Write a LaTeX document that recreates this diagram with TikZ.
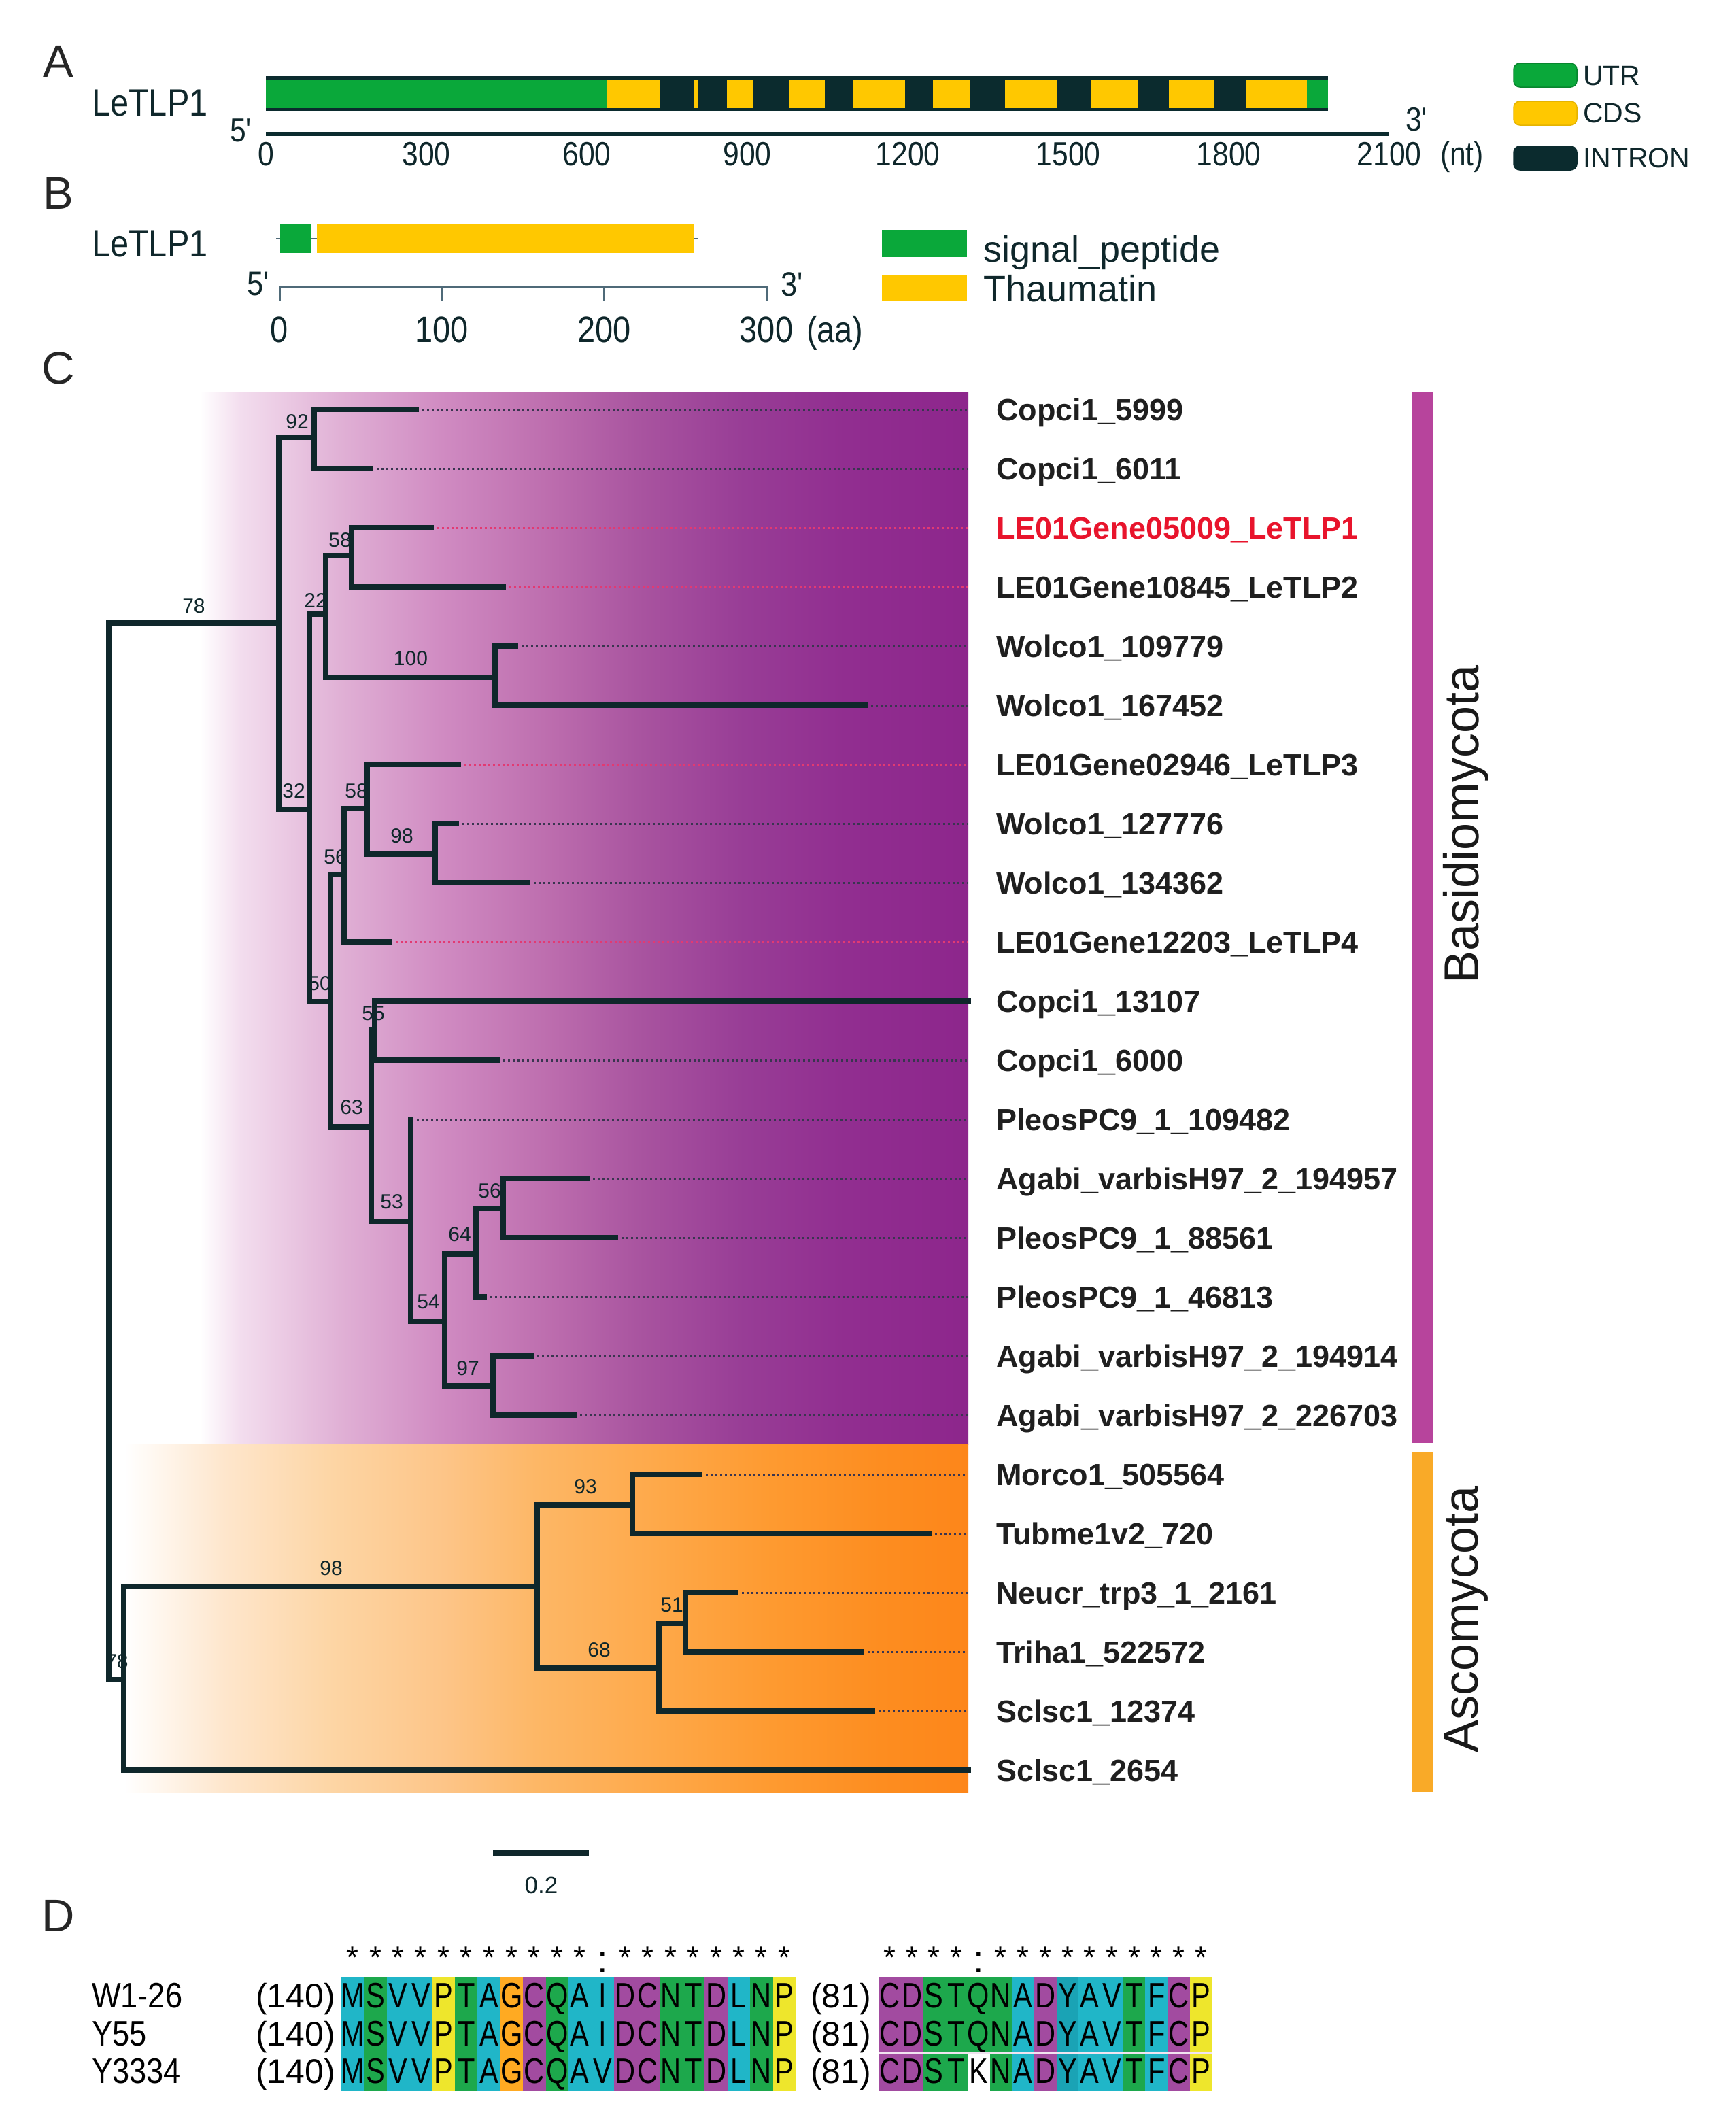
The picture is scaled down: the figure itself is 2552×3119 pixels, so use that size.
\documentclass[tikz,border=0pt]{standalone}
\usepackage{fontspec}
\setmainfont{Liberation Sans}
\usepackage{graphicx}
\definecolor{treec}{HTML}{0F272B}
\definecolor{utrg}{HTML}{0AA83A}
\definecolor{cdsy}{HTML}{FFC800}
\definecolor{intr}{HTML}{0B2B2E}
\definecolor{basb}{HTML}{B7449C}
\definecolor{ascb}{HTML}{F9AA28}
\definecolor{redl}{HTML}{E8142C}
\definecolor{cdot}{HTML}{3A3550}
\definecolor{cdotr}{HTML}{E23A72}
\definecolor{axb}{HTML}{4F6A78}
\definecolor{cy}{HTML}{20B6C8}
\definecolor{cyd}{HTML}{1AA3B5}
\definecolor{gr}{HTML}{1DA84C}
\definecolor{ye}{HTML}{EEE62C}
\definecolor{orr}{HTML}{FFAA22}
\definecolor{pu}{HTML}{A24BA0}
\definecolor{pA}{HTML}{F3DDEE}
\definecolor{pB}{HTML}{E0B0D5}
\definecolor{pC}{HTML}{D08BC2}
\definecolor{pD}{HTML}{BE6FAF}
\definecolor{pE}{HTML}{A8539F}
\definecolor{pF}{HTML}{983D96}
\definecolor{pG}{HTML}{912E90}
\definecolor{pH}{HTML}{8D268C}
\definecolor{oA}{HTML}{FEE6CC}
\definecolor{oB}{HTML}{FDD5A4}
\definecolor{oC}{HTML}{FDC588}
\definecolor{oD}{HTML}{FDB766}
\definecolor{oE}{HTML}{FEA848}
\definecolor{oF}{HTML}{FE9A30}
\definecolor{oG}{HTML}{FD8D20}
\definecolor{oH}{HTML}{FD861A}
\pgfdeclarehorizontalshading{purpgrad}{100bp}{color(0bp)=(white); color(25bp)=(white); color(27.65bp)=(pA); color(34.2bp)=(pB); color(40.75bp)=(pC); color(47.3bp)=(pD); color(53.85bp)=(pE); color(60.4bp)=(pF); color(66.95bp)=(pG); color(75bp)=(pH); color(100bp)=(pH)}
\pgfdeclarehorizontalshading{orgrad}{100bp}{color(0bp)=(white); color(25bp)=(white); color(30.96bp)=(oA); color(37.4bp)=(oB); color(43.9bp)=(oC); color(49.4bp)=(oD); color(56.9bp)=(oE); color(63.4bp)=(oF); color(69.8bp)=(oG); color(75bp)=(oH); color(100bp)=(oH)}
\newcommand{\fsz}[1]{\fontsize{#1}{#1}\selectfont}
\newcommand{\cnd}[1]{\scalebox{0.87}[1]{#1}}
\newcommand{\cnda}[1]{\scalebox{0.8}[1]{#1}}
\tikzset{
  tx/.style={inner sep=0pt, outer sep=0pt},
  br/.style={draw=treec, line width=8pt, line cap=rect, line join=miter},
  dotn/.style={draw=cdot, line width=3pt, dash pattern=on 2.5pt off 4.5pt},
  dotred/.style={draw=cdotr, line width=3pt, dash pattern=on 2.5pt off 4.5pt},
  leaf/.style={tx, anchor=base west, font=\fsz{45}\bfseries, text=black!88},
  bs/.style={tx, font=\fsz{30}, text=treec},
  pl/.style={tx, font=\fsz{67}, text=black!85},
  tkA/.style={tx, anchor=base, font=\fsz{49}, text=treec},
  tkB/.style={tx, anchor=base, font=\fsz{54}, text=treec},
  lgA/.style={tx, anchor=base west, font=\fsz{41}, text=treec},
  lgB/.style={tx, anchor=base west, font=\fsz{54}, text=treec},
  aa/.style={tx, anchor=base, font=\fsz{52}, text=black},
  nm/.style={tx, anchor=base west, font=\fsz{52}, text=black},
  st/.style={tx, anchor=base, font=\fsz{46}, text=black},
  clade/.style={tx, font=\fsz{72}, text=black!90, rotate=90}
}
\begin{document}
\begin{tikzpicture}[x=1pt,y=-1pt]
\useasboundingbox (0,0) rectangle (2552,3119);
% ---------------- Panel A ----------------
\node[pl] (labA) at (86,90) {A};
\node[tx, anchor=base west, font=\fsz{56}, text=treec] (geneA) at (135,170) {\cnd{LeTLP1}};
\fill[intr] (391,112) rectangle (1953,163);
\fill[utrg] (391,118) rectangle (892,159);
\foreach \a/\b in {892/970,1020/1027,1069/1108,1160/1213,1255/1331,1372/1426,1478/1554,1605/1673,1719/1785,1833/1922}
  \fill[cdsy] (\a,118) rectangle (\b,159);
\fill[utrg] (1922,118) rectangle (1953,159);
\draw[intr, line width=6pt] (391,197) -- (2043,197);
\foreach \v [count=\k from 0] in {0,300,600,900,1200,1500,1800,2100}
  \node[tkA] (tA\k) at ({391+0.78667*\v},243) {\cnd{\v}};
\node[tx, anchor=base west, font=\fsz{49}, text=treec] (ntA) at (2118,243) {\cnd{(nt)}};
\node[tx, font=\fsz{49}, text=treec] (fiveA) at (354,192) {\cnd{5\textquotesingle}};
\node[tx, font=\fsz{49}, text=treec] (threeA) at (2083,176) {\cnd{3\textquotesingle}};
\draw[utrg!80!black, fill=utrg, rounded corners=9pt, line width=1.5pt] (2226,93) rectangle (2319,128);
\draw[cdsy!90!black, fill=cdsy, rounded corners=9pt, line width=1.5pt] (2226,149) rectangle (2319,184);
\draw[intr, fill=intr, rounded corners=9pt, line width=1.5pt] (2226,215) rectangle (2319,250);
\node[lgA] (lgU) at (2328,125) {UTR};
\node[lgA] (lgC) at (2328,180) {CDS};
\node[lgA] (lgI) at (2328,246) {INTRON};
% ---------------- Panel B ----------------
\node[pl] (labB) at (86,284) {B};
\node[tx, anchor=base west, font=\fsz{56}, text=treec] (geneB) at (135,377) {\cnd{LeTLP1}};
\draw[axb, line width=2pt] (406,351) -- (1026,351);
\fill[utrg] (412,330) rectangle (458,372);
\fill[cdsy] (466,330) rectangle (1020,372);
\draw[axb, line width=3pt] (411,442) -- (411,422) -- (1127,422) -- (1127,442);
\draw[axb, line width=3pt] (649,422) -- (649,442) (888,422) -- (888,442);
\foreach \v [count=\k from 0] in {0,100,200,300}
  \node[tkB] (tB\k) at ({411+2.3867*\v},503) {\cnd{\v}};
\node[tx, anchor=base west, font=\fsz{54}, text=treec] (aaB) at (1186,503) {\cnd{(aa)}};
\node[tx, font=\fsz{50}, text=treec] (fiveB) at (380,418) {\cnd{5\textquotesingle}};
\node[tx, font=\fsz{50}, text=treec] (threeB) at (1165,418) {\cnd{3\textquotesingle}};
\fill[utrg] (1297,338) rectangle (1422,378);
\fill[cdsy] (1297,404) rectangle (1422,442);
\node[lgB] (lgS) at (1446,385) {signal\_peptide};
\node[lgB] (lgT) at (1446,443) {Thaumatin};
% ---------------- Panel C ----------------
\node[pl] (labC) at (86,541) {C};
\shade[shading=purpgrad] (294,577) rectangle (1424,2124);
\shade[shading=orgrad] (183,2124) rectangle (1424,2636);
% dotted leaders
\foreach \x/\y in {612/602,545/689,758/950,1272/1037,671/1211,776/1298,731/1559,604/1646,863/1733,905/1820,712/1907,781/1994,844/2081,1029/2168,1366/2255,1082/2342,1267/2429,1283/2516}
  \draw[dotn] ({\x+9},\y) -- (1424,\y);
\foreach \x/\y in {634/776,740/863,674/1124,573/1385}
  \draw[dotred] ({\x+9},\y) -- (1424,\y);
% bootstrap values
\foreach \t/\x/\y in {78/285/891,92/437/620,58/500/794,22/464/883,100/604/968,32/432/1163,58/524/1163,98/591/1229,56/493/1260,50/470/1446,55/549/1490,63/517/1628,53/576/1767,54/630/1914,64/676/1815,56/720/1751,97/688/2012,93/861/2186,98/487/2306,68/881/2426,51/988/2360,78/172/2443}
  \node[bs] at (\x,\y) {\t};
% tree branches
\draw[br] (410,916) -| (160,2470) -- (182,2470);
\draw[br] (462,643) -- (410,643) -- (410,1190) -- (455,1190);
\draw[br] (612,602) -| (462,689) -- (545,689);
\draw[br] (479,903) -| (455,1473) -- (486,1473);
\draw[br] (517,817) -| (479,996) -- (728,996);
\draw[br] (634,776) -| (517,863) -- (740,863);
\draw[br] (758,950) -| (728,1037) -- (1272,1037);
\draw[br] (506,1286) -| (486,1657) -- (546,1657);
\draw[br] (540,1189) -| (506,1385) -- (573,1385);
\draw[br] (674,1124) -| (540,1256) -- (640,1256);
\draw[br] (671,1211) -| (640,1298) -- (776,1298);
\draw[br] (551,1514) -| (546,1796) -- (604,1796);
\draw[br] (1424,1472) -| (551,1559) -- (731,1559);
\draw[br] (604,1646) -- (604,1943) -- (654,1943);
\draw[br] (700,1844) -| (654,2038) -- (725,2038);
\draw[br] (740,1777) -| (700,1907) -- (712,1907);
\draw[br] (863,1733) -| (740,1820) -- (905,1820);
\draw[br] (781,1994) -| (725,2081) -- (844,2081);
\draw[br] (790,2333) -| (182,2603) -- (1424,2603);
\draw[br] (930,2213) -| (790,2453) -- (969,2453);
\draw[br] (1029,2168) -| (930,2255) -- (1366,2255);
\draw[br] (1008,2387) -| (969,2516) -- (1283,2516);
\draw[br] (1082,2342) -| (1008,2429) -- (1267,2429);
% leaf labels
\node[leaf] (l0) at (1465,618) {Copci1\_5999};
\node[leaf] (l1) at (1465,705) {Copci1\_6011};
\node[leaf, text=redl] (l2) at (1465,792) {LE01Gene05009\_LeTLP1};
\node[leaf] (l3) at (1465,879) {LE01Gene10845\_LeTLP2};
\node[leaf] (l4) at (1465,966) {Wolco1\_109779};
\node[leaf] (l5) at (1465,1053) {Wolco1\_167452};
\node[leaf] (l6) at (1465,1140) {LE01Gene02946\_LeTLP3};
\node[leaf] (l7) at (1465,1227) {Wolco1\_127776};
\node[leaf] (l8) at (1465,1314) {Wolco1\_134362};
\node[leaf] (l9) at (1465,1401) {LE01Gene12203\_LeTLP4};
\node[leaf] (l10) at (1465,1488) {Copci1\_13107};
\node[leaf] (l11) at (1465,1575) {Copci1\_6000};
\node[leaf] (l12) at (1465,1662) {PleosPC9\_1\_109482};
\node[leaf] (l13) at (1465,1749) {Agabi\_varbisH97\_2\_194957};
\node[leaf] (l14) at (1465,1836) {PleosPC9\_1\_88561};
\node[leaf] (l15) at (1465,1923) {PleosPC9\_1\_46813};
\node[leaf] (l16) at (1465,2010) {Agabi\_varbisH97\_2\_194914};
\node[leaf] (l17) at (1465,2097) {Agabi\_varbisH97\_2\_226703};
\node[leaf] (l18) at (1465,2184) {Morco1\_505564};
\node[leaf] (l19) at (1465,2271) {Tubme1v2\_720};
\node[leaf] (l20) at (1465,2358) {Neucr\_trp3\_1\_2161};
\node[leaf] (l21) at (1465,2445) {Triha1\_522572};
\node[leaf] (l22) at (1465,2532) {Sclsc1\_12374};
\node[leaf] (l23) at (1465,2619) {Sclsc1\_2654};
% clade bars
\fill[basb] (2076,577) rectangle (2108,2122);
\fill[ascb] (2076,2135) rectangle (2108,2635);
\node[clade] (basi) at (2156,1212) {Basidiomycota};
\node[clade] (asco) at (2156,2381) {Ascomycota};
% scale bar
\draw[treec, line width=8pt] (725,2725) -- (866,2725);
\node[tx, font=\fsz{35}, text=treec] (sc) at (796,2772) {0.2};
% ---------------- Panel D ----------------
\node[pl] (labD) at (86,2817) {D};
\foreach \c [count=\i from 0] in {cy,gr,cy,cy,ye,gr,cy,orr,pu,gr,cy,cy,pu,pu,gr,gr,pu,cy,gr,ye}
  \fill[\c] ({502+33.4*\i},2907) rectangle ({502+33.4*(\i+1)},3075);
\foreach \c [count=\i from 0] in {pu,pu,gr,gr,gr,gr,cy,pu,cyd,cy,cy,gr,cy,pu,ye}
  \fill[\c] ({1292+32.7*\i},2907) rectangle ({1292+32.7*(\i+1)},3075);
\fill[white] ({1292+32.7*4},3019) rectangle ({1292+32.7*5},3075);
\draw[white!85!pu, line width=2pt] (1292,3019) -- (1782,3019);
\foreach \yy in {2952,3008}{
  \foreach \l [count=\i from 0] in {M,S,V,V,P,T,A,G,C,Q,A,I,D,C,N,T,D,L,N,P}
    \node[aa] at ({502+33.4*\i+16.7},\yy) {\cnda{\l}};
  \foreach \l [count=\i from 0] in {C,D,S,T,Q,N,A,D,Y,A,V,T,F,C,P}
    \node[aa] at ({1292+32.7*\i+16.35},\yy) {\cnda{\l}};
}
\foreach \l [count=\i from 0] in {M,S,V,V,P,T,A,G,C,Q,A,V,D,C,N,T,D,L,N,P}
  \node[aa] at ({502+33.4*\i+16.7},3063) {\cnda{\l}};
\foreach \l [count=\i from 0] in {C,D,S,T,K,N,A,D,Y,A,V,T,F,C,P}
  \node[aa] at ({1292+32.7*\i+16.35},3063) {\cnda{\l}};
\foreach \i in {0,...,10,12,13,...,19}
  \node[st] at ({502+33.4*\i+16.7},2894) {*};
\node[tx, anchor=base, font=\fsz{56}] (colA) at ({502+33.4*11+16.7},2900) {:};
\foreach \i in {0,1,2,3,5,6,...,14}
  \node[st] at ({1292+32.7*\i+16.35},2894) {*};
\node[tx, anchor=base, font=\fsz{56}] (colB) at ({1292+32.7*4+16.35},2900) {:};
\node[nm] (n1) at (135,2952) {\cnd{W1-26}};
\node[nm] (n2) at (135,3008) {\cnd{Y55}};
\node[nm] (n3) at (135,3063) {\cnd{Y3334}};
\foreach \yy [count=\k] in {2952,3008,3063}{
  \node[tx, anchor=base east, font=\fsz{50}] (p\k) at (493,\yy) {(140)};
  \node[tx, anchor=base east, font=\fsz{50}] (q\k) at (1281,\yy) {(81)};
}
\end{tikzpicture}
\end{document}
